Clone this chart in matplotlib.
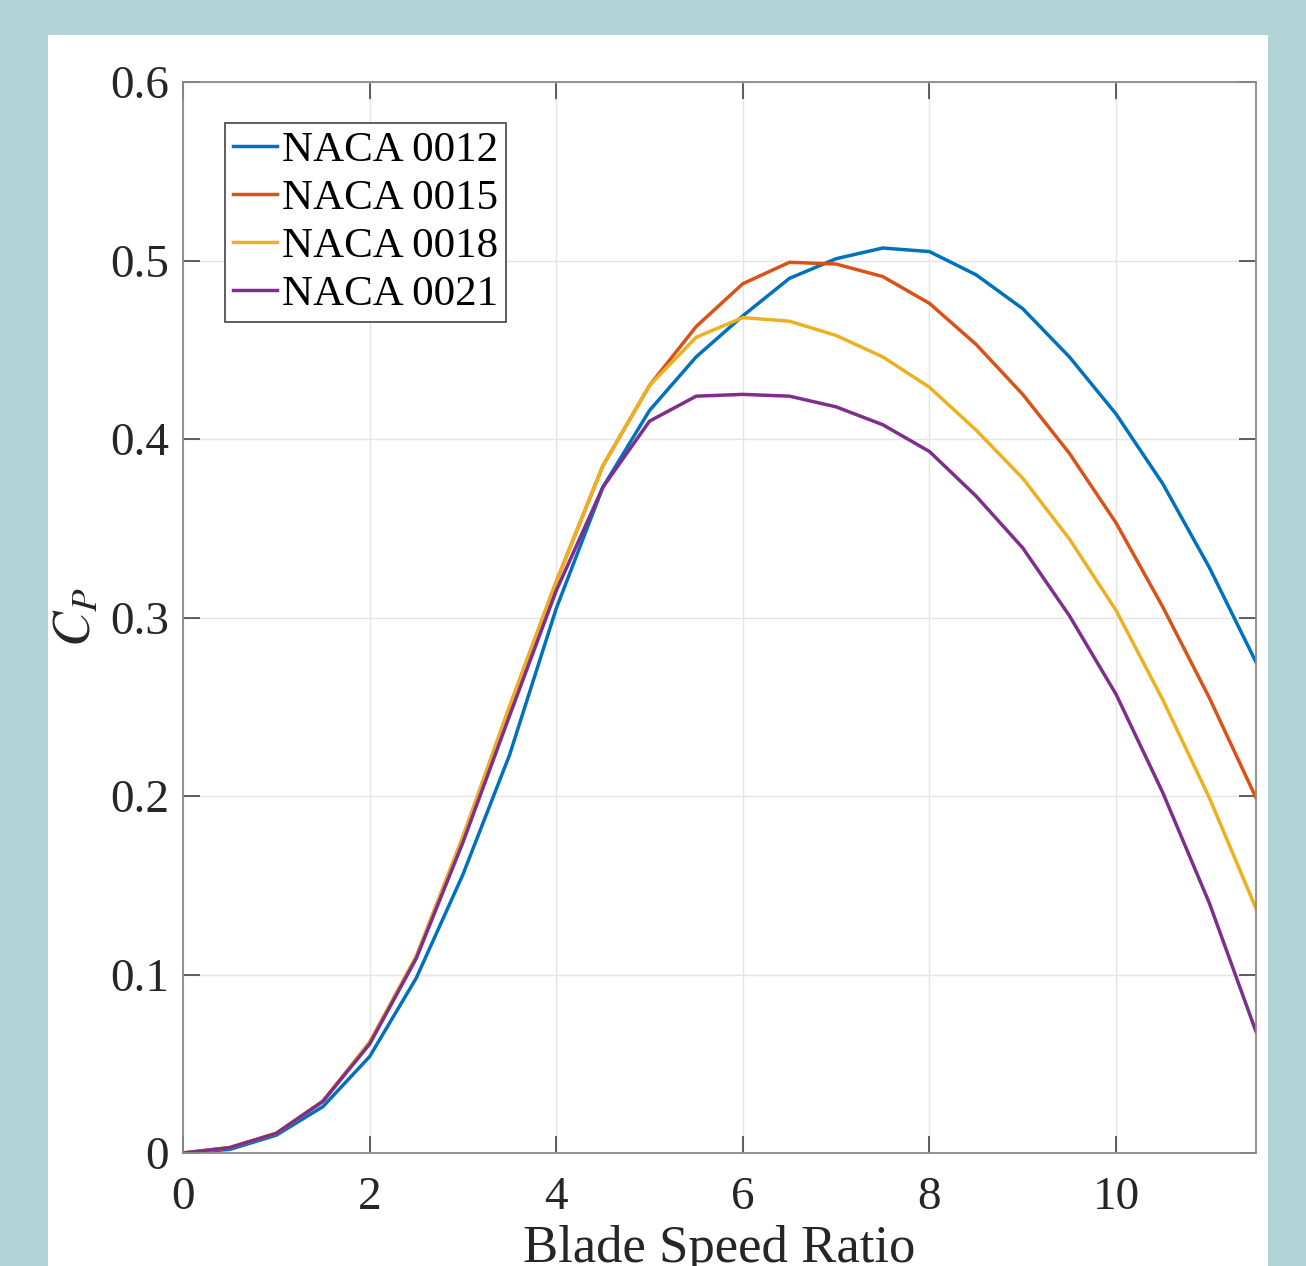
import matplotlib.pyplot as plt
from matplotlib.patches import Rectangle

plt.rcParams['font.family'] = ['Liberation Serif', 'DejaVu Serif']
plt.rcParams['mathtext.fontset'] = 'stix'

tsr = [0, 0.5, 1, 1.5, 2, 2.5, 3, 3.5, 4, 4.5, 5, 5.5,
       6, 6.5, 7, 7.5, 8, 8.5, 9, 9.5, 10, 10.5, 11, 11.5]

cp_0012 = [0, 0.002, 0.010, 0.026, 0.054, 0.098, 0.156, 0.223, 0.305, 0.373, 0.416, 0.446,
           0.469, 0.490, 0.501, 0.507, 0.505, 0.492, 0.473, 0.446, 0.414, 0.375, 0.328, 0.275]
cp_0015 = [0, 0.003, 0.011, 0.029, 0.062, 0.110, 0.177, 0.250, 0.320, 0.385, 0.430, 0.463,
           0.487, 0.499, 0.498, 0.491, 0.476, 0.453, 0.425, 0.392, 0.353, 0.306, 0.255, 0.199]
cp_0018 = [0, 0.003, 0.011, 0.029, 0.062, 0.110, 0.177, 0.250, 0.320, 0.385, 0.430, 0.457,
           0.468, 0.466, 0.458, 0.446, 0.429, 0.405, 0.378, 0.344, 0.304, 0.254, 0.199, 0.137]
cp_0021 = [0, 0.003, 0.011, 0.029, 0.061, 0.109, 0.174, 0.245, 0.315, 0.373, 0.410, 0.424,
           0.425, 0.424, 0.418, 0.408, 0.393, 0.368, 0.339, 0.301, 0.257, 0.202, 0.140, 0.068]

labels = ['NACA 0012', 'NACA 0015', 'NACA 0018', 'NACA 0021']
colors = ['#0072BD', '#D95319', '#EDB120', '#7E2F8E']

fig = plt.figure(figsize=(13.06, 12.66), dpi=100)
fig.patch.set_facecolor('#b2d4d6')
fig.patches.append(Rectangle((48 / 1306, 0), (1268 - 48) / 1306, 1 - 35 / 1266,
                             transform=fig.transFigure, facecolor='white',
                             edgecolor='none', zorder=-10))

ax = fig.add_axes([183 / 1306, 1 - 1153 / 1266, (1256 - 183) / 1306, (1153 - 82) / 1266])
for cp, lab, c in zip([cp_0012, cp_0015, cp_0018, cp_0021], labels, colors):
    ax.plot(tsr, cp, color=c, lw=2.5, label=lab)

ax.set_xlim(0, 11.5)
ax.set_ylim(0, 0.6)
ax.set_xticks([0, 2, 4, 6, 8, 10])
ax.set_yticks([0, 0.1, 0.2, 0.3, 0.4, 0.5, 0.6])
ax.set_yticklabels(['0', '0.1', '0.2', '0.3', '0.4', '0.5', '0.6'])
ax.grid(True, color='#e4e4e4', lw=1)
ax.set_axisbelow(True)
for s in ax.spines.values():
    s.set_color('#8a8a8a')
    s.set_linewidth(1.3)
ax.tick_params(direction='in', length=12, width=1.2, color='#444444',
               labelsize=34, labelcolor='#262626', top=True, right=True, pad=10)
ax.tick_params(axis='x', pad=17)

ax.set_xlabel('Blade Speed Ratio', fontsize=38, color='#262626', labelpad=4)
ax.set_ylabel('$C_P$', fontsize=38, color='#262626', labelpad=6)

leg = ax.legend(loc='upper left', bbox_to_anchor=(0.039, 0.962), fontsize=31,
                handlelength=1.0, handletextpad=0.12, borderpad=0.2,
                labelspacing=0.2, borderaxespad=0, fancybox=False, framealpha=1)
leg.get_frame().set_edgecolor('#444444')
leg.get_frame().set_linewidth(1.2)

fig.savefig('out.png', dpi=100, facecolor=fig.get_facecolor())
